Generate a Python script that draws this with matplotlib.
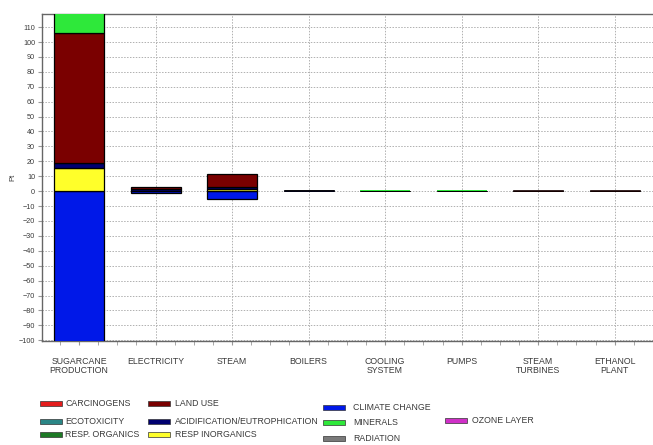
import matplotlib
matplotlib.use("Agg")
import matplotlib.pyplot as plt
import numpy as np
from matplotlib.patches import Rectangle

plt.rcParams['font.family'] = ['Liberation Sans', 'DejaVu Sans']

# processes on the x axis
processes = ['SUGARCANE\nPRODUCTION', 'ELECTRICITY', 'STEAM', 'BOILERS',
             'COOLING\nSYSTEM', 'PUMPS', 'STEAM\nTURBINES', 'ETHANOL\nPLANT']

# impact category scores (Pt) per process
climate_change = [-101, -1.1, -5.6, 0, 0, 0, 0, 0]
resp_inorganics = [15.2, 0, 1.2, 0, 0, 0, 0, 0]
acidification = [3.8, 1.2, 1.5, 0.6, 0, 0, 0, 0]
land_use = [87.3, 1.8, 8.7, 0.4, 0, 0, 0.8, 0.8]
minerals = [15, 0, 0, 0, 0.8, 0.8, 0, 0]

# legend entries
legend_names = ['CARCINOGENS', 'ECOTOXICITY', 'RESP. ORGANICS',
                'LAND USE', 'ACIDIFICATION/EUTROPHICATION', 'RESP INORGANICS',
                'CLIMATE CHANGE', 'MINERALS', 'RADIATION', 'OZONE LAYER']
legend_colors = ['#e41c1c', '#2b8686', '#1d7a25',
                 '#7a0000', '#000070', '#ffff2a',
                 '#0018e8', '#2ee83a', '#7a7a7a', '#d030c8']

col = dict(zip(legend_names, legend_colors))

fig = plt.figure(figsize=(6.53, 4.45), dpi=100)
W, H = 653, 445
ax = fig.add_axes([42 / W, 1 - 341 / H, 611 / W, 327 / H])

x = np.arange(len(processes))
width = 0.655

stack = [(climate_change, 'CLIMATE CHANGE'),
         (resp_inorganics, 'RESP INORGANICS'),
         (acidification, 'ACIDIFICATION/EUTROPHICATION'),
         (land_use, 'LAND USE'),
         (minerals, 'MINERALS')]

pos = np.zeros(len(x))
neg = np.zeros(len(x))
for vals, name in stack:
    vals = np.array(vals, dtype=float)
    bottom = np.where(vals >= 0, pos, neg)
    # thin slivers: dark ones keep a faint outline, the green ones none
    lw = [0.9 if abs(v) >= 1 else (0 if name == 'MINERALS' else 0.5) for v in vals]
    ax.bar(x, vals, width=width, bottom=bottom, color=col[name],
           edgecolor='black', linewidth=lw, zorder=3)
    pos += np.where(vals > 0, vals, 0)
    neg += np.where(vals < 0, vals, 0)

ax.set_xlim(-0.484, 7.5)
ax.set_ylim(-100.5, 118.8)
ax.set_yticks(np.arange(-100, 111, 10))
ax.set_xticks(x)
ax.set_xticklabels(processes, fontsize=6.3, color='#3a3a3a', linespacing=1.05)
ax.set_xticks(np.arange(-0.25, 7.5, 0.25), minor=True)
ax.tick_params(axis='x', which='major', length=3, pad=8.5, color='#999999', direction='out')
ax.tick_params(axis='x', which='minor', length=3, color='#999999', direction='out')
ax.tick_params(axis='y', labelsize=5.2, labelcolor='#3a3a3a', length=3,
               color='#999999', pad=2)
ax.set_ylabel('Pt', fontsize=5.5, color='#3a3a3a', labelpad=2)

ax.grid(True, which='major', color='#b0b0b0', linestyle=(0, (1.5, 1.5)), linewidth=0.7, zorder=0)
ax.set_axisbelow(True)
for s in ['left', 'top', 'bottom']:
    ax.spines[s].set_color('#666666')
    ax.spines[s].set_linewidth(1.0)
ax.spines['right'].set_visible(False)

# legend drawn below the axes
patch_x = [40, 40, 40, 148, 148, 148, 323, 323, 323, 445]
text_x = [65, 65, 65, 175, 175, 175, 353, 353, 353, 472]
row_y = [403.5, 421.5, 434.5, 403.5, 421.5, 434.5, 407, 422.5, 438.5, 420.5]
for name, c, px, tx, ry in zip(legend_names, legend_colors, patch_x, text_x, row_y):
    fig.patches.append(Rectangle((px / W, 1 - (ry + 2.5) / H), 22 / W, 5 / H,
                                 facecolor=c, edgecolor='#333333', linewidth=0.5,
                                 transform=fig.transFigure, figure=fig))
    fig.text(tx / W, 1 - ry / H, name, fontsize=6.3, color='#3a3a3a',
             ha='left', va='center')

fig.savefig('out.png', dpi=100)
